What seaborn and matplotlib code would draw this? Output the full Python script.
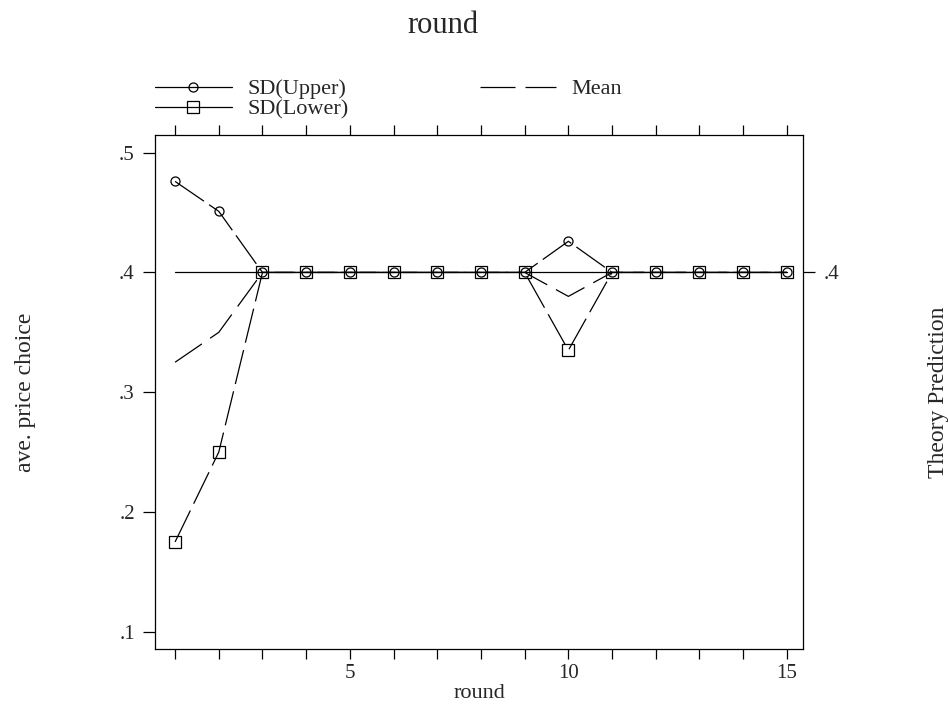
import numpy as np
import pandas as pd
import matplotlib
matplotlib.use("Agg")
import matplotlib.pyplot as plt
from matplotlib.lines import Line2D
import seaborn as sns

# Average price choice per round
rounds = list(range(1, 16))
sd_upper = [0.476, 0.451, 0.400, 0.400, 0.400, 0.400, 0.400, 0.400, 0.400,
            0.426, 0.400, 0.400, 0.400, 0.400, 0.400]
mean_price = [0.325, 0.350, 0.400, 0.400, 0.400, 0.400, 0.400, 0.400, 0.400,
              0.380, 0.400, 0.400, 0.400, 0.400, 0.400]
sd_lower = [0.175, 0.250, 0.400, 0.400, 0.400, 0.400, 0.400, 0.400, 0.400,
            0.335, 0.400, 0.400, 0.400, 0.400, 0.400]
theory_prediction = [0.4] * 15

y_ticks = [0.1, 0.2, 0.3, 0.4, 0.5]
y_tick_labels = [".1", ".2", ".3", ".4", ".5"]
x_labeled = [5, 10, 15]

sns.set_theme(style="white")
plt.rcParams["font.family"] = ["Liberation Serif", "DejaVu Serif"]
plt.rcParams["axes.linewidth"] = 0.9

fig = plt.figure(figsize=(9.49, 7.04), dpi=100)
ax = fig.add_axes([0.1633, 0.0781, 0.6829, 0.7306])

df = pd.DataFrame({"round": rounds, "upper": sd_upper, "mean": mean_price,
                   "lower": sd_lower, "theory": theory_prediction})

lw = 0.9
# theory prediction reference line
sns.lineplot(data=df, x="round", y="theory", ax=ax, color="black", lw=lw)
# mean, long dashes
sns.lineplot(data=df, x="round", y="mean", ax=ax, color="black", lw=lw)
ax.lines[-1].set_dashes((26, 8))
# SD bands with hollow markers
sns.lineplot(data=df, x="round", y="upper", ax=ax, color="black", lw=lw,
             marker="o", markersize=6.5, markerfacecolor="none",
             markeredgecolor="black", markeredgewidth=0.9)
ax.lines[-1].set_dashes((28, 5))
sns.lineplot(data=df, x="round", y="lower", ax=ax, color="black", lw=lw,
             marker="s", markersize=8, markerfacecolor="none",
             markeredgecolor="black", markeredgewidth=0.9)
ax.lines[-1].set_dashes((28, 6))

ax.set_xlim(0.54, 15.37)
ax.set_ylim(0.0856, 0.515)

for s in ax.spines.values():
    s.set_visible(True)
    s.set_color("black")
    s.set_linewidth(0.9)

ax.set_xticks(rounds)
ax.set_xticklabels([str(r) if r in x_labeled else "" for r in rounds])
ax.set_yticks(y_ticks)
ax.set_yticklabels(y_tick_labels)
ax.tick_params(axis="x", which="major", direction="out", length=7.5, width=0.9,
               top=True, bottom=True, labeltop=False, labelsize=15, pad=3.5,
               color="black")
ax.tick_params(axis="y", which="major", direction="out", length=8.5, width=0.9,
               left=True, labelsize=15, pad=6, color="black")
ax.set_xlabel("round", fontsize=16, labelpad=0.5)
ax.set_ylabel("ave. price choice", fontsize=17, labelpad=60)

# right axis marking the theory value
ax2 = ax.twinx()
ax2.set_ylim(ax.get_ylim())
ax2.set_yticks([0.4])
ax2.set_yticklabels([".4"])
ax2.tick_params(axis="y", direction="out", length=8.5, width=0.9, labelsize=15,
                pad=6, color="black")
ax2.set_ylabel("Theory Prediction", fontsize=17, labelpad=64)
for s in ax2.spines.values():
    s.set_visible(False)

fig.suptitle("round", fontsize=22, x=0.467, y=0.985)

handles = [
    Line2D([], [], color="black", lw=lw, marker="o", markersize=6.5,
           markerfacecolor="none", markeredgewidth=0.9),
    Line2D([], [], color="black", lw=lw, marker="s", markersize=8,
           markerfacecolor="none", markeredgewidth=0.9),
    Line2D([], [], color="black", lw=lw, dashes=(28, 8)),
]
fig.legend(handles, ["SD(Upper)", "SD(Lower)", "Mean"], ncol=2,
           loc="upper left", bbox_to_anchor=(0.1633, 0.888), frameon=False,
           fontsize=16, handlelength=3.45, handletextpad=0.7,
           columnspacing=5.9, labelspacing=0.0, borderpad=0, borderaxespad=0)

fig.savefig("out.png", dpi=100, facecolor="white")
